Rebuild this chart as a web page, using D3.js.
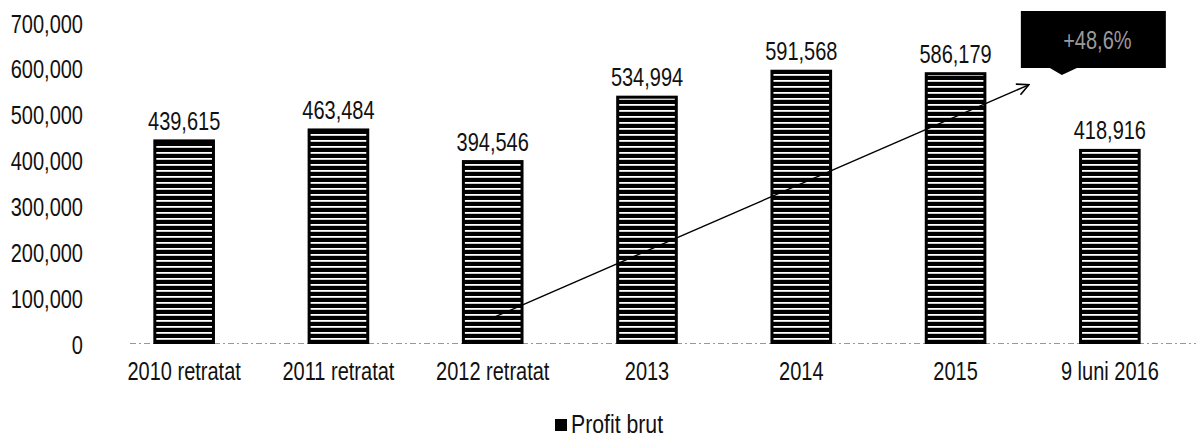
<!DOCTYPE html>
<html><head><meta charset="utf-8">
<script src="https://cdn.jsdelivr.net/npm/d3@7"></script>
<style>
html,body{margin:0;padding:0;background:#fff;}
text{font-family:"Liberation Sans",Arial,sans-serif;fill:#111;}
</style></head>
<body>
<svg id="chart" width="1196" height="437"></svg>
<script>
const categories = ["2010 retratat","2011 retratat","2012 retratat","2013","2014","2015","9 luni 2016"];
const values = [439615, 463484, 394546, 534994, 591568, 586179, 418916];
const yTicks = [0,100000,200000,300000,400000,500000,600000,700000];
const seriesName = "Profit brut";
const growthLabel = "+48,6%";

const svg = d3.select("#chart");
const x = d3.scaleBand().domain(categories).range([107,1187]).paddingInner(0.62).paddingOuter(0.31);
const y = d3.scaleLinear().domain([0,700000]).range([342.5,21.5]);
const fmt = d3.format(",");
const SX = 0.8;

function condense(sel, sx){
  sel.each(function(){
    const t = d3.select(this);
    const tx = +t.attr("x") || 0, ty = +t.attr("y") || 0;
    t.attr("x",0).attr("y",0).attr("transform",`translate(${tx},${ty}) scale(${sx},1)`);
  });
}

const defs = svg.append("defs");
const pat = defs.append("pattern").attr("id","stripes").attr("patternUnits","userSpaceOnUse")
  .attr("width",12).attr("height",6);
pat.append("rect").attr("width",12).attr("height",6).attr("fill","#000");
pat.append("rect").attr("y",2).attr("width",12).attr("height",1.8).attr("fill","#fff");
defs.append("marker").attr("id","arrow").attr("viewBox","0 0 12 12").attr("refX",11).attr("refY",6)
  .attr("markerWidth",14).attr("markerHeight",14).attr("orient","auto").attr("markerUnits","userSpaceOnUse")
  .append("path").attr("d","M1,1 L11,6 L1,11").attr("fill","none").attr("stroke","#000").attr("stroke-width",1.4);

// y axis labels
const yAxis = d3.axisLeft(y).tickValues(yTicks).tickFormat(fmt).tickSize(0).tickPadding(0);
const ya = svg.append("g").attr("transform","translate(83,0)").call(yAxis);
ya.select(".domain").remove();
ya.selectAll("text").attr("font-size",25).attr("dy",null).attr("y",10.5).style("font-family",null).style("fill","#111");
condense(ya.selectAll("text"), SX);

// baseline
svg.append("line").attr("x1",130).attr("x2",1196).attr("y1",y(0)+1).attr("y2",y(0)+1)
  .attr("stroke","#999").attr("stroke-width",1).attr("stroke-dasharray","6,3,2,3");

// bars
svg.selectAll("rect.bar").data(values).join("rect").attr("class","bar")
  .attr("x",(d,i)=>x(categories[i])).attr("width",x.bandwidth())
  .attr("y",d=>y(d)).attr("height",d=>y(0)-y(d))
  .attr("fill","url(#stripes)").attr("stroke","#000").attr("stroke-width",3);

// value labels
const vl = svg.selectAll("text.val").data(values).join("text").attr("class","val")
  .attr("x",(d,i)=>x(categories[i])+x.bandwidth()/2).attr("y",d=>y(d)-11)
  .attr("text-anchor","middle").attr("font-size",25).text(d=>fmt(d));
condense(vl, SX);

// x axis labels
const xAxis = d3.axisBottom(x).tickSize(0).tickPadding(0);
const xa = svg.append("g").attr("transform","translate(0,380)").call(xAxis);
xa.select(".domain").remove();
xa.selectAll("text").attr("font-size",25).attr("dy",null).attr("y",0).style("font-family",null).style("fill","#111");
condense(xa.selectAll("text"), SX);

// arrow
const step = x.step();
svg.append("line")
  .attr("x1",x("2012 retratat")+x.bandwidth()/2-4).attr("y1",y(50000))
  .attr("x2",x("2015")+x.bandwidth()/2+step*0.475).attr("y2",y(562000))
  .attr("stroke","#000").attr("stroke-width",1.4).attr("marker-end","url(#arrow)");

// callout
const bx = x("9 luni 2016")+x.bandwidth()/2 - 89, bw = 145, by = 11, bh = 57;
svg.append("path").attr("d",`M${bx},${by} h${bw} v${bh} H${bx+56} L${bx+41},${by+bh+7} L${bx+29},${by+bh} H${bx} Z`)
  .attr("fill","#000");
const ct = svg.append("text").attr("x",bx+bw/2+4).attr("y",by+bh/2+9).attr("text-anchor","middle")
  .attr("font-size",25).style("fill","#9a9a9a").text(growthLabel);
condense(ct, SX);

// legend
const lg = svg.append("g").attr("transform","translate(555,425)");
lg.append("rect").attr("x",0).attr("y",-6).attr("width",12).attr("height",12).attr("fill","#000");
const lt = lg.append("text").attr("x",16).attr("y",8).attr("font-size",25).text(seriesName);
condense(lt, 0.85);
</script>
</body></html>
